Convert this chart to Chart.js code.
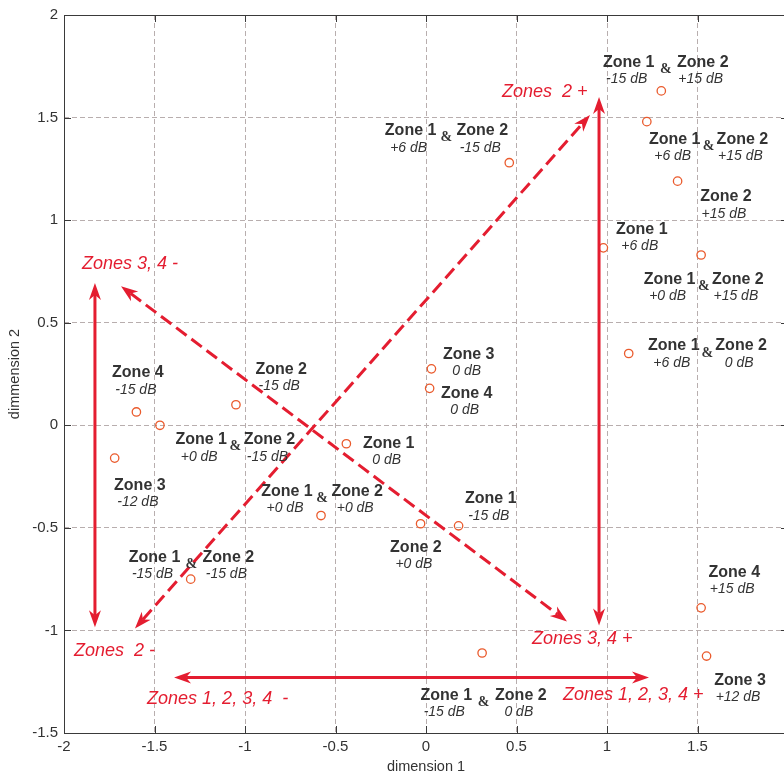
<!DOCTYPE html>
<html>
<head>
<meta charset="utf-8">
<title>dimension 1 / dimmension 2</title>
<script src="https://cdn.jsdelivr.net/npm/chart.js@4"></script>
<style>
html,body{margin:0;padding:0;background:#fff;overflow:hidden;}
canvas{display:block;}
</style>
</head>
<body>
<canvas id="chart" width="800" height="778"></canvas>
<script>
// point positions
let xValues = [1.30, 1.22, 0.46, 1.39, 0.98, 1.52, 1.12, -1.60, -1.47, -1.05, -1.72, -0.44, -0.58, -1.30, 0.03, 0.02, -0.03, 0.18, 0.31, 1.52, 1.55];
let yValues = [1.63, 1.48, 1.28, 1.19, 0.865, 0.83, 0.35, 0.065, 0.0, 0.10, -0.16, -0.09, -0.44, -0.75, 0.275, 0.18, -0.48, -0.49, -1.11, -0.89, -1.125];

let xTicks = [-2, -1.5, -1, -0.5, 0, 0.5, 1, 1.5, 2];
let yTicks = [-1.5, -1, -0.5, 0, 0.5, 1, 1.5, 2];

// single labels: x, y, zone, level
let singleLabels = [
  [1.657, 1.114, "Zone 2", "+15 dB"],
  [1.192, 0.955, "Zone 1", "+6 dB"],
  [-1.592, 0.255, "Zone 4", "-15 dB"],
  [-0.80, 0.273, "Zone 2", "-15 dB"],
  [-1.581, -0.293, "Zone 3", "-12 dB"],
  [0.236, 0.346, "Zone 3", "0 dB"],
  [0.225, 0.155, "Zone 4", "0 dB"],
  [-0.206, -0.089, "Zone 1", "0 dB"],
  [0.358, -0.358, "Zone 1", "-15 dB"],
  [-0.056, -0.594, "Zone 2", "+0 dB"],
  [1.703, -0.716, "Zone 4", "+15 dB"],
  [1.735, -1.244, "Zone 3", "+12 dB"]
];

// paired labels: x1, x2, y, level zone 1, level zone 2
let pairLabels = [
  [1.120, 1.529, 1.769, "-15 dB", "+15 dB"],
  [-0.085, 0.311, 1.436, "+6 dB", "-15 dB"],
  [1.374, 1.748, 1.394, "+6 dB", "+15 dB"],
  [1.346, 1.723, 0.711, "+0 dB", "+15 dB"],
  [1.369, 1.741, 0.387, "+6 dB", "0 dB"],
  [-1.242, -0.865, -0.070, "+0 dB", "-15 dB"],
  [-0.768, -0.380, -0.322, "+0 dB", "+0 dB"],
  [-1.500, -1.092, -0.645, "-15 dB", "-15 dB"],
  [0.112, 0.524, -1.317, "-15 dB", "0 dB"]
];

// double headed arrows: x1, y1, x2, y2, dashed
let arrows = [
  [0.956, -0.976, 0.956, 1.600, false],
  [-1.829, -0.985, -1.829, 0.693, false],
  [-1.608, -0.990, 0.906, 1.512, true],
  [-1.685, 0.678, 0.779, -0.956, true],
  [-1.392, -1.229, 1.232, -1.229, false]
];

let arrowLabels = [
  [0.420, 1.626, "Zones  2 +"],
  [-1.901, 0.785, "Zones 3, 4 -"],
  [-1.945, -1.098, "Zones  2 -"],
  [-1.541, -1.332, "Zones 1, 2, 3, 4  -"],
  [0.586, -1.044, "Zones 3, 4 +"],
  [0.757, -1.317, "Zones 1, 2, 3, 4 +"]
];

const SANS = "'Liberation Sans', Arial, sans-serif";
const RED = "#e41d30";
const INK = "#333333";
Chart.defaults.font.family = SANS;

function drawHead(ctx, x, y, ang){
  ctx.save();
  ctx.translate(x, y);
  ctx.rotate(ang);
  ctx.beginPath();
  ctx.moveTo(0, 0);
  ctx.lineTo(-17, -6);
  ctx.lineTo(-12, 0);
  ctx.lineTo(-17, 6);
  ctx.closePath();
  ctx.fill();
  ctx.restore();
}

const overlay = {
  id: "overlay",
  afterDraw(chart){
    let ctx = chart.ctx;
    let xs = chart.scales.x, ys = chart.scales.y;
    let a = chart.chartArea;

    // box and inward ticks
    ctx.save();
    ctx.strokeStyle = "#3a3a3a";
    ctx.lineWidth = 1;
    ctx.strokeRect(a.left + 0.5, a.top + 0.5, a.right - a.left, a.bottom - a.top);
    ctx.beginPath();
    xTicks.forEach(v => {
      let px = Math.round(xs.getPixelForValue(v)) + 0.5;
      ctx.moveTo(px, a.bottom); ctx.lineTo(px, a.bottom - 7);
      ctx.moveTo(px, a.top); ctx.lineTo(px, a.top + 7);
    });
    yTicks.forEach(v => {
      let py = Math.round(ys.getPixelForValue(v)) + 0.5;
      ctx.moveTo(a.left, py); ctx.lineTo(a.left + 7, py);
      ctx.moveTo(a.right, py); ctx.lineTo(a.right - 7, py);
    });
    ctx.stroke();
    ctx.restore();

    // arrows
    ctx.save();
    ctx.strokeStyle = RED;
    ctx.fillStyle = RED;
    ctx.lineWidth = 3;
    arrows.forEach(r => {
      let x1 = xs.getPixelForValue(r[0]), y1 = ys.getPixelForValue(r[1]);
      let x2 = xs.getPixelForValue(r[2]), y2 = ys.getPixelForValue(r[3]);
      let ang = Math.atan2(y2 - y1, x2 - x1);
      let cx = Math.cos(ang) * 12, cy = Math.sin(ang) * 12;
      ctx.setLineDash(r[4] ? [13, 6] : []);
      ctx.beginPath();
      ctx.moveTo(x1 + cx, y1 + cy);
      ctx.lineTo(x2 - cx, y2 - cy);
      ctx.stroke();
      ctx.setLineDash([]);
      drawHead(ctx, x2, y2, ang);
      drawHead(ctx, x1, y1, ang + Math.PI);
    });
    ctx.font = "italic 18px " + SANS;
    ctx.textAlign = "left";
    ctx.textBaseline = "middle";
    arrowLabels.forEach(l => {
      ctx.fillText(l[2], xs.getPixelForValue(l[0]), ys.getPixelForValue(l[1]));
    });
    ctx.restore();

    // zone labels
    ctx.save();
    ctx.fillStyle = INK;
    ctx.textAlign = "center";
    ctx.textBaseline = "middle";
    function zone(x, y, name, level){
      ctx.font = "bold 16px " + SANS;
      ctx.fillText(name, x, y);
      ctx.font = "italic 14px " + SANS;
      ctx.fillText(level, x - 2, y + 17);
    }
    singleLabels.forEach(l => {
      zone(xs.getPixelForValue(l[0]), ys.getPixelForValue(l[1]), l[2], l[3]);
    });
    pairLabels.forEach(l => {
      let x1 = xs.getPixelForValue(l[0]), x2 = xs.getPixelForValue(l[1]);
      let y = ys.getPixelForValue(l[2]);
      zone(x1, y, "Zone 1", l[3]);
      zone(x2, y, "Zone 2", l[4]);
      ctx.font = "bold 14px 'Liberation Serif', 'Times New Roman', serif";
      ctx.fillText("&", (x1 + x2) / 2, y + 7);
    });
    ctx.restore();
  }
};

let points = xValues.map((x, i) => ({x: x, y: yValues[i]}));

let ctx = document.getElementById("chart").getContext("2d");

let chartInstance = new Chart(ctx, {
  type: "scatter",
  data: {
    datasets: [{
      data: points,
      pointStyle: "circle",
      pointRadius: 4.2,
      pointHoverRadius: 4.2,
      borderWidth: 1.3,
      borderColor: "#ea5a2c",
      backgroundColor: "rgba(0,0,0,0)"
    }]
  },
  options: {
    responsive: false,
    animation: false,
    devicePixelRatio: 1,
    events: [],
    layout: {padding: {left: 0, right: 12, top: 15, bottom: 0}},
    plugins: {legend: {display: false}, tooltip: {enabled: false}},
    scales: {
      x: {
        type: "linear",
        min: -2,
        max: 2,
        afterBuildTicks: s => { s.ticks = xTicks.map(v => ({value: v})); },
        afterFit: s => { s.height = 45; },
        ticks: {callback: v => String(v), color: INK, font: {size: 15}, padding: 5, maxRotation: 0, autoSkip: false},
        grid: {color: "#b8aeae", lineWidth: 1, drawTicks: false},
        border: {display: false, dash: [5, 3]},
        title: {display: true, text: "dimension 1", color: INK, font: {size: 14.5}, padding: {top: 0, bottom: 2}}
      },
      y: {
        type: "linear",
        min: -1.5,
        max: 2,
        afterBuildTicks: s => { s.ticks = yTicks.map(v => ({value: v})); },
        afterFit: s => { s.width = 64; },
        ticks: {callback: v => String(v), color: INK, font: {size: 15}, padding: 6, autoSkip: false},
        grid: {color: "#b8aeae", lineWidth: 1, drawTicks: false},
        border: {display: false, dash: [5, 3]},
        title: {display: true, text: "dimmension 2", color: INK, font: {size: 14.5}, padding: {top: 6, bottom: 0}}
      }
    }
  },
  plugins: [overlay]
});
</script>
</body>
</html>
